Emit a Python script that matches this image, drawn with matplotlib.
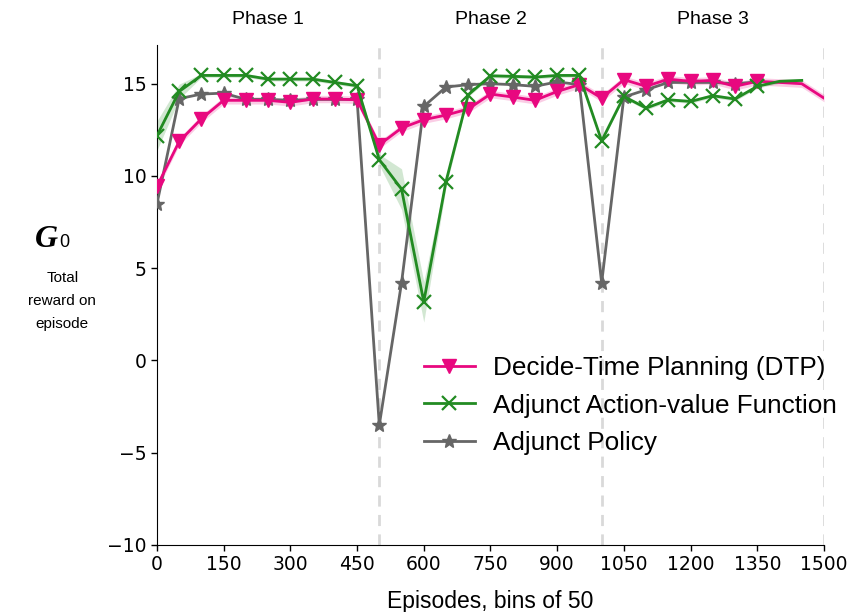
import numpy as np
import matplotlib
matplotlib.use("Agg")
import matplotlib.pyplot as plt

# episodes (bins of 50)
episodes = list(range(0, 1550, 50))

dtp = [9.43, 11.87, 13.1, 14.1, 14.1, 14.1, 13.99, 14.17, 14.17, 14.13,
       11.69, 12.6, 13.05, 13.3, 13.63, 14.44, 14.28, 14.1, 14.58, 14.95,
       14.22, 15.22, 14.86, 15.25, 15.13, 15.18, 14.86, 15.13, 15.07, 15.0, 14.22]
dtp_err = [0.2] * 31

adj_q = [12.18, 14.58, 15.45, 15.45, 15.45, 15.25, 15.25, 15.25, 15.07, 14.89,
         10.88, 9.29, 3.18, 9.7, 14.4, 15.43, 15.4, 15.36, 15.45, 15.45,
         11.9, 14.31, 13.68, 14.13, 14.04, 14.35, 14.17, 14.86, 15.13, 15.18]
adj_q_err = [0.8, 0.4, 0.1, 0.1, 0.1, 0.1, 0.1, 0.1, 0.1, 0.1,
             0.3, 1.1, 1.1, 0.3, 0.1, 0.1, 0.1, 0.1, 0.1, 0.1,
             0.1, 0.1, 0.1, 0.1, 0.1, 0.1, 0.1, 0.1, 0.1, 0.1]

adj_pi = [8.49, 14.19, 14.44, 14.49, 14.15, 14.15, 14.1, 14.15, 14.15, 14.15,
          -3.5, 4.21, 13.77, 14.82, 14.95, 15.0, 14.95, 14.86, 15.1, 14.95,
          4.21, 14.28, 14.67, 15.07, 15.07, 15.07, 15.0, 15.1]

phase_names = ["Phase 1", "Phase 2", "Phase 3"]
phase_centers = [250, 750, 1250]
phase_bounds = [500, 1000, 1500]

pink = "#e8087f"
green = "#228b22"
gray = "#666666"
marks = list(range(0, 28))
sans = ["Liberation Sans", "DejaVu Sans"]

fig = plt.figure(figsize=(8.53, 6.12), dpi=100)
ax = fig.add_axes([0.184, 0.1095, 0.782, 0.817])

for b in phase_bounds:
    ax.axvline(b, color="#d9d9d9", lw=2, ls=(0, (4, 3)), zorder=1)

x_q = np.array(episodes[:len(adj_q)])
ax.fill_between(episodes, np.array(dtp) - dtp_err, np.array(dtp) + dtp_err,
                color=pink, alpha=0.2, lw=0, zorder=2)
ax.fill_between(x_q, np.array(adj_q) - adj_q_err, np.array(adj_q) + adj_q_err,
                color=green, alpha=0.2, lw=0, zorder=2)

l3, = ax.plot(episodes[:len(adj_pi)], adj_pi, color=gray, lw=2, marker="*",
              ms=10, markevery=marks, label="Adjunct Policy", zorder=3)
l1, = ax.plot(episodes, dtp, color=pink, lw=2, marker="v", ms=10.5,
              markevery=marks, label="Decide-Time Planning (DTP)", zorder=4)
l2, = ax.plot(x_q, adj_q, color=green, lw=2, marker="x", ms=10, mew=1.6,
              markevery=marks, label="Adjunct Action-value Function", zorder=5)

ax.set_xlim(0, 1500)
ax.set_ylim(-10, 17.1)
ax.set_xticks(range(0, 1501, 150))
ax.set_yticks([-10, -5, 0, 5, 10, 15])
ax.tick_params(labelsize=13.5, width=1, length=4)
ax.spines["top"].set_visible(False)
ax.spines["right"].set_visible(False)

ax.set_xlabel("Episodes, bins of 50", family=sans, fontsize=16.5, labelpad=11)

for name, c in zip(phase_names, phase_centers):
    ax.text(c, 1.05, name, transform=ax.get_xaxis_transform(), ha="center",
            va="center", family=sans, fontsize=14)

fig.text(0.054, 0.608, "G", family="Liberation Serif", fontweight="bold",
         fontstyle="italic", fontsize=23, ha="center", va="center")
fig.text(0.075, 0.603, "0", family=sans, fontsize=13, ha="center", va="center")
fig.text(0.073, 0.508, "Total\nreward on\nepisode", family=sans, fontsize=11,
         ha="center", va="center", linespacing=1.85)

ax.legend(handles=[l1, l2, l3], loc="upper left", bbox_to_anchor=(0.365, 0.425),
          frameon=False, prop={"family": sans, "size": 18.8},
          handlelength=1.95, handletextpad=0.7, labelspacing=0.52)

fig.savefig("out.png", dpi=100)
